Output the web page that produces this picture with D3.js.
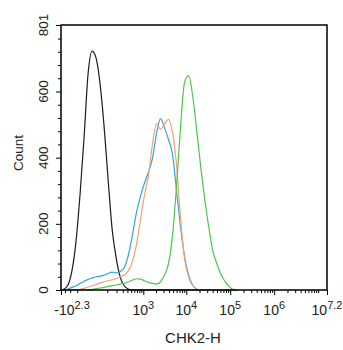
<!DOCTYPE html>
<html>
<head>
<meta charset="utf-8">
<script src="https://cdn.jsdelivr.net/npm/d3@7"></script>
<style>
  html, body { margin: 0; padding: 0; background: #fff; }
  svg text { font-family: "Liberation Sans", Arial, sans-serif; fill: #222; }
</style>
</head>
<body>
<svg id="chart" width="343" height="350"></svg>
<script>
// Histogram bin centres (CHK2-H intensity) shared by all overlays
const bins = [-199, -160, -120, -85, -57, -35, -17, -2, 12, 29, 50, 76, 108, 148, 197,
  257, 331, 423, 537, 676, 849, 1060, 1320, 1650, 2050, 2550, 3150, 3900, 4830, 5980,
  7400, 9140, 11300, 13950, 17200, 21300, 26300, 32500, 40000, 49400, 61000, 75300,
  93000, 115000, 142000];

// Event counts per bin for each sample
const isotypeCounts = [0, 3, 15, 60, 150, 290, 460, 655, 722, 700, 620, 490, 330, 180, 95,
  38, 12, 3, 0, 0, 0, 0, 0, 0, 0, 0, 0, 0, 0, 0, 0, 0, 0, 0, 0, 0, 0, 0, 0, 0, 0, 0, 0, 0, 0];
const blueCounts = [0, 0, 3, 8, 13, 20, 26, 32, 36, 40, 42, 45, 50, 54, 52,
  56, 68, 105, 165, 232, 282, 322, 356, 398, 472, 518, 490, 455, 410, 300,
  190, 100, 45, 15, 3, 0, 0, 0, 0, 0, 0, 0, 0, 0, 0];
const orangeCounts = [0, 0, 0, 0, 0, 2, 5, 9, 13, 17, 21, 25, 28, 31, 34,
  40, 46, 58, 85, 135, 212, 285, 345, 440, 503, 486, 502, 516, 476, 378,
  215, 95, 38, 13, 4, 0, 0, 0, 0, 0, 0, 0, 0, 0, 0];
const greenCounts = [0, 0, 0, 0, 0, 0, 0, 0, 2, 4, 6, 8, 11, 13, 15,
  18, 20, 24, 30, 34, 33, 28, 23, 20, 18, 25, 45, 80, 165, 315,
  495, 628, 648, 588, 485, 373, 275, 190, 120, 80, 48, 27, 11, 2, 0];

const seriesColors = ["#1b1b1b", "#3aa3d8", "#f2a271", "#4ec64b"];

// Axis ticks
const yMajor = [0, 200, 400, 600, 801];
const yMinor = [40, 80, 120, 160, 240, 280, 320, 360, 440, 480, 520, 560, 640, 680, 720, 760];
const xMajor = [-199.5, 1e3, 1e4, 1e5, 1e6, Math.pow(10, 7.2)];
const xMajorLabels = [["-10", "2.3"], ["10", "3"], ["10", "4"], ["10", "5"], ["10", "6"], ["10", "7.2"]];
const xMinor = [-150, -100, -50, 100, 200, 300, 400, 500, 600, 700, 800, 900,
  2e3, 3e3, 4e3, 5e3, 6e3, 7e3, 8e3, 9e3,
  2e4, 3e4, 4e4, 5e4, 6e4, 7e4, 8e4, 9e4,
  2e5, 3e5, 4e5, 5e5, 6e5, 7e5, 8e5, 9e5,
  2e6, 3e6, 4e6, 5e6, 6e6, 7e6, 8e6, 9e6, 1e7];

const plotLeft = 61, plotRight = 327, plotTop = 25, plotBottom = 290;

const svg = d3.select("#chart");

const x = d3.scaleSymlog().constant(61)
  .domain([-199.5, Math.pow(10, 7.2)])
  .range([plotLeft, plotRight]);
const y = d3.scaleLinear().domain([0, 801]).range([plotBottom, plotTop]);

// Histogram outlines
const line = d3.line()
  .x((d, i) => x(bins[i]))
  .y(d => y(d))
  .curve(d3.curveMonotoneX);

[isotypeCounts, blueCounts, orangeCounts, greenCounts].forEach((counts, k) => {
  svg.append("path")
    .datum(counts)
    .attr("d", line)
    .attr("fill", "none")
    .attr("stroke", seriesColors[k])
    .attr("stroke-width", 1.2)
    .attr("stroke-linejoin", "round");
});

// Frame
svg.append("rect")
  .attr("x", plotLeft).attr("y", plotTop)
  .attr("width", plotRight - plotLeft).attr("height", plotBottom - plotTop)
  .attr("fill", "none").attr("stroke", "#000").attr("stroke-width", 1.5);

// Y ticks
const yAxisMinor = d3.axisLeft(y).tickValues(yMinor).tickSize(3).tickFormat("");
const yAxisMajor = d3.axisLeft(y).tickValues(yMajor).tickSize(5).tickFormat("");
[yAxisMinor, yAxisMajor].forEach(ax => {
  const g = svg.append("g").attr("transform", `translate(${plotLeft},0)`).call(ax);
  g.select(".domain").remove();
  g.selectAll("line").attr("stroke", "#000");
});

svg.append("g").selectAll("text")
  .data(yMajor)
  .join("text")
  .attr("transform", d => `translate(48,${y(d)}) rotate(-90)`)
  .attr("text-anchor", "middle")
  .attr("font-size", 13.5)
  .text(d => d);

// X ticks
const xAxisMinor = d3.axisBottom(x).tickValues(xMinor).tickSize(3).tickFormat("");
const xAxisMajor = d3.axisBottom(x).tickValues(xMajor).tickSize(5).tickFormat("");
[xAxisMinor, xAxisMajor].forEach(ax => {
  const g = svg.append("g").attr("transform", `translate(0,${plotBottom})`).call(ax);
  g.select(".domain").remove();
  g.selectAll("line").attr("stroke", "#000");
});

const xl = svg.append("g").selectAll("text")
  .data(xMajor)
  .join("text")
  .attr("x", (d, i) => x(d) + (i === 0 ? 11 : 0))
  .attr("y", 315)
  .attr("text-anchor", "middle")
  .attr("font-size", 14);
xl.append("tspan").text((d, i) => xMajorLabels[i][0]);
xl.append("tspan").attr("dy", -6).attr("font-size", 11).text((d, i) => xMajorLabels[i][1]);

// Axis titles
svg.append("text")
  .attr("transform", "translate(23,153) rotate(-90)")
  .attr("text-anchor", "middle")
  .attr("font-size", 13.5)
  .text("Count");

svg.append("text")
  .attr("x", 193).attr("y", 343)
  .attr("text-anchor", "middle")
  .attr("font-size", 15)
  .text("CHK2-H");
</script>
</body>
</html>
